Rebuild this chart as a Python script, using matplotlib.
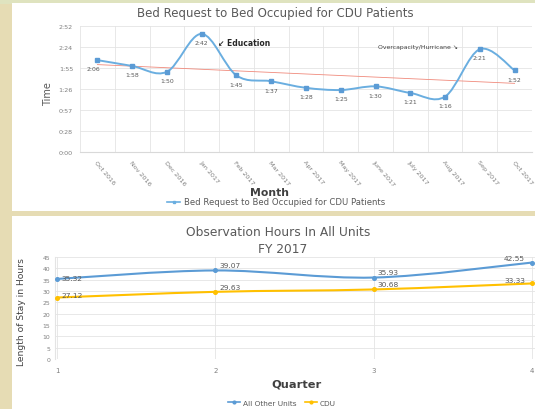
import numpy as np
import matplotlib
matplotlib.use('Agg')
import matplotlib.pyplot as plt
from matplotlib.path import Path
from matplotlib.patches import PathPatch, Rectangle
from matplotlib.lines import Line2D

plt.rcParams['font.family'] = ['DejaVu Sans']

# top chart data
months = ['Oct 2016', 'Nov 2016', 'Dec 2016', 'Jan 2017', 'Feb 2017', 'Mar 2017', 'Apr 2017',
          'May 2017', 'June 2017', 'July 2017', 'Aug 2017', 'Sep 2017', 'Oct 2017']
wait_times = ['2:06', '1:58', '1:50', '2:42', '1:45', '1:37', '1:28',
              '1:25', '1:30', '1:21', '1:16', '2:21', '1:52']

# bottom chart data
quarters = [1, 2, 3, 4]
all_other_units = [35.32, 39.07, 35.93, 42.55]
cdu = [27.12, 29.63, 30.68, 33.33]

BLUE = '#5b9bd5'
GOLD = '#ffc000'
GRID = '#e4e4e4'
TXT = '#595959'


def to_hours(s):
    h, m = s.split(':')
    return int(h) + int(m) / 60.0


def smooth_patch(x, y, color, lw):
    # excel style smoothed line (bezier through the points)
    pts = np.column_stack([x, y]).astype(float)
    n = len(pts)
    verts = [pts[0]]
    codes = [Path.MOVETO]
    for i in range(n - 1):
        p0 = pts[i - 1] if i > 0 else pts[i]
        p1 = pts[i]
        p2 = pts[i + 1]
        p3 = pts[i + 2] if i + 2 < n else pts[i + 1]
        c1 = p1 + (p2 - p0) / 6.0
        c2 = p2 - (p3 - p1) / 6.0
        verts += [c1, c2, p2]
        codes += [Path.CURVE4] * 3
    return PathPatch(Path(verts, codes), facecolor='none', edgecolor=color, lw=lw, zorder=3)


def hm_fmt(v, pos=None):
    mins = int(np.floor(v * 60 + 1e-6))
    return f'{mins // 60}:{mins % 60:02d}'


W, H = 535, 410
fig = plt.figure(figsize=(W / 100, H / 100), dpi=100)
fig.patch.set_facecolor('#e6dcb4')

# background panels
fig.patches.append(Rectangle((0, 1 - 5 / H), 1, 5 / H, transform=fig.transFigure,
                             facecolor='#dfe3bf', edgecolor='none', zorder=-5))
fig.patches.append(Rectangle((12 / W, 1 - 212 / H), 1, (212 - 4) / H, transform=fig.transFigure,
                             facecolor='white', edgecolor='none', zorder=-5))
fig.patches.append(Rectangle((12 / W, 0), 1, 1 - 217 / H, transform=fig.transFigure,
                             facecolor='white', edgecolor='none', zorder=-5))

# ---------------- top chart ----------------
ax1 = fig.add_axes([80 / W, 1 - 153 / H, (532 - 80) / W, (153 - 27) / H])
ax1.set_facecolor('none')
xs = np.arange(len(months))
ys = np.array([to_hours(t) for t in wait_times])

ax1.add_patch(smooth_patch(xs, ys, '#6aaee0', 1.4))
ax1.plot(xs, ys, linestyle='none', marker='s', ms=2.4, color=BLUE, zorder=4)

# linear trend
k, b = np.polyfit(xs, ys, 1)
ax1.plot(xs, k * xs + b, color='#f08a7c', lw=0.6, zorder=2)

for x, y, s in zip(xs, ys, wait_times):
    dx = -3 if x == 0 else 0
    ax1.annotate(s, (x, y), xytext=(dx, -4.5), textcoords='offset points',
                 ha='center', va='top', fontsize=4.4, color=TXT)

ax1.set_xlim(-0.5, len(months) - 0.5)
ax1.set_ylim(0, 2.88)
ax1.set_yticks(np.arange(7) * 0.48)
ax1.yaxis.set_major_formatter(plt.FuncFormatter(hm_fmt))
ax1.set_xticks(xs)
ax1.set_xticklabels(months, rotation=-50, ha='left', va='top', rotation_mode='anchor')
ax1.set_xticks(np.arange(-0.5, len(months), 1), minor=True)
ax1.grid(True, which='minor', axis='x', color=GRID, lw=0.6)
ax1.grid(True, which='major', axis='y', color=GRID, lw=0.6)
ax1.tick_params(which='both', length=0, labelsize=4.6, labelcolor='#7f7f7f', pad=5)
for sp in ['top', 'right', 'left']:
    ax1.spines[sp].set_visible(False)
ax1.spines['bottom'].set_color('#d9d9d9')
ax1.set_axisbelow(True)

ax1.text(3.48, 2.51, '\u2199 Education', fontsize=5.5, color='#262626', fontweight='bold',
         va='center', ha='left')
ax1.text(10.38, 2.42, 'Overcapacity/Hurricane \u2198', fontsize=4.4, color='#404040',
         ha='right', va='center')

fig.text(275 / W, 1 - 14 / H, 'Bed Request to Bed Occupied for CDU Patients',
         ha='center', va='center', fontsize=8.5, color=TXT)
fig.text(48 / W, 1 - 94 / H, 'Time', rotation=90, ha='center', va='center', fontsize=7, color=TXT)
fig.text(270 / W, 1 - 193 / H, 'Month', ha='center', va='center', fontsize=7.8,
         color='#404040', fontweight='bold')
leg1 = fig.legend([Line2D([0], [0], color='#6aaee0', marker='s', ms=2, lw=1.2)],
                  ['Bed Request to Bed Occupied for CDU Patients'],
                  loc='center', bbox_to_anchor=(276 / W, 1 - 203 / H), frameon=False,
                  fontsize=6.1, handlelength=1.6, handletextpad=0.4, borderpad=0)
for t in leg1.get_texts():
    t.set_color(TXT)

# ---------------- bottom chart ----------------
unit = (532 - 57) / 3.0
x0 = 0.985
ax2 = fig.add_axes([(57 - (1 - x0) * unit) / W, 1 - 360 / H, (3.25 * unit) / W, (360 - 258) / H])
ax2.set_facecolor('none')
ax2.add_patch(smooth_patch(quarters, all_other_units, BLUE, 1.5))
ax2.add_patch(smooth_patch(quarters, cdu, GOLD, 1.5))
ax2.plot(quarters, all_other_units, linestyle='none', marker='o', ms=2.6, color=BLUE, zorder=4)
ax2.plot(quarters, cdu, linestyle='none', marker='o', ms=2.6, color=GOLD, zorder=4)

LBL = 5.4
for x, y in zip(quarters, all_other_units):
    if x == 4:
        ax2.annotate(f'{y:.2f}', (x, y), xytext=(-5, 1), textcoords='offset points',
                     ha='right', va='bottom', fontsize=LBL, color=TXT)
    elif x == 1:
        ax2.annotate(f'{y:.2f}', (x, y), xytext=(3.5, 1), textcoords='offset points',
                     ha='left', va='center', fontsize=LBL, color=TXT)
    else:
        ax2.annotate(f'{y:.2f}', (x, y), xytext=(3, 1.5), textcoords='offset points',
                     ha='left', va='bottom', fontsize=LBL, color=TXT)
for x, y in zip(quarters, cdu):
    if x == 4:
        ax2.annotate(f'{y:.2f}', (x, y), xytext=(-5, 0.5), textcoords='offset points',
                     ha='right', va='bottom', fontsize=LBL, color=TXT)
    elif x == 1:
        ax2.annotate(f'{y:.2f}', (x, y), xytext=(3.5, 1.5), textcoords='offset points',
                     ha='left', va='center', fontsize=LBL, color=TXT)
    else:
        ax2.annotate(f'{y:.2f}', (x, y), xytext=(3, 1.5), textcoords='offset points',
                     ha='left', va='bottom', fontsize=LBL, color=TXT)

ax2.set_xlim(x0, x0 + 3.25)
ax2.set_ylim(0, 45)
ax2.set_yticks(np.arange(0, 46, 5))
ax2.set_xticks(quarters)
ax2.grid(True, color=GRID, lw=0.6)
ax2.tick_params(axis='y', length=0, labelsize=4.4, labelcolor='#7f7f7f', pad=3)
ax2.tick_params(axis='x', length=0, labelsize=5, labelcolor='#7f7f7f', pad=6)
for sp in ['top', 'right', 'bottom']:
    ax2.spines[sp].set_visible(False)
ax2.spines['left'].set_color('#e4e4e4')
ax2.set_axisbelow(True)

fig.text(278 / W, 1 - 233 / H, 'Observation Hours In All Units', ha='center', va='center',
         fontsize=8.8, color=TXT)
fig.text(283 / W, 1 - 250 / H, 'FY 2017', ha='center', va='center', fontsize=8.8, color=TXT)
fig.text(22 / W, 1 - 312 / H, 'Length of Stay in Hours', rotation=90, ha='center', va='center',
         fontsize=6.6, color='#404040')
fig.text(296 / W, 1 - 385 / H, 'Quarter', ha='center', va='center', fontsize=8.2,
         color='#404040', fontweight='bold')
leg2 = fig.legend([Line2D([0], [0], color=BLUE, marker='o', ms=2, lw=1.2),
                   Line2D([0], [0], color=GOLD, marker='o', ms=2, lw=1.2)],
                  ['All Other Units', 'CDU'], ncol=2,
                  loc='center', bbox_to_anchor=(282 / W, 1 - 404 / H), frameon=False,
                  fontsize=5.3, handlelength=1.6, handletextpad=0.4, columnspacing=1.2, borderpad=0)
for t in leg2.get_texts():
    t.set_color(TXT)

fig.savefig('out.png', dpi=100, facecolor=fig.get_facecolor())
